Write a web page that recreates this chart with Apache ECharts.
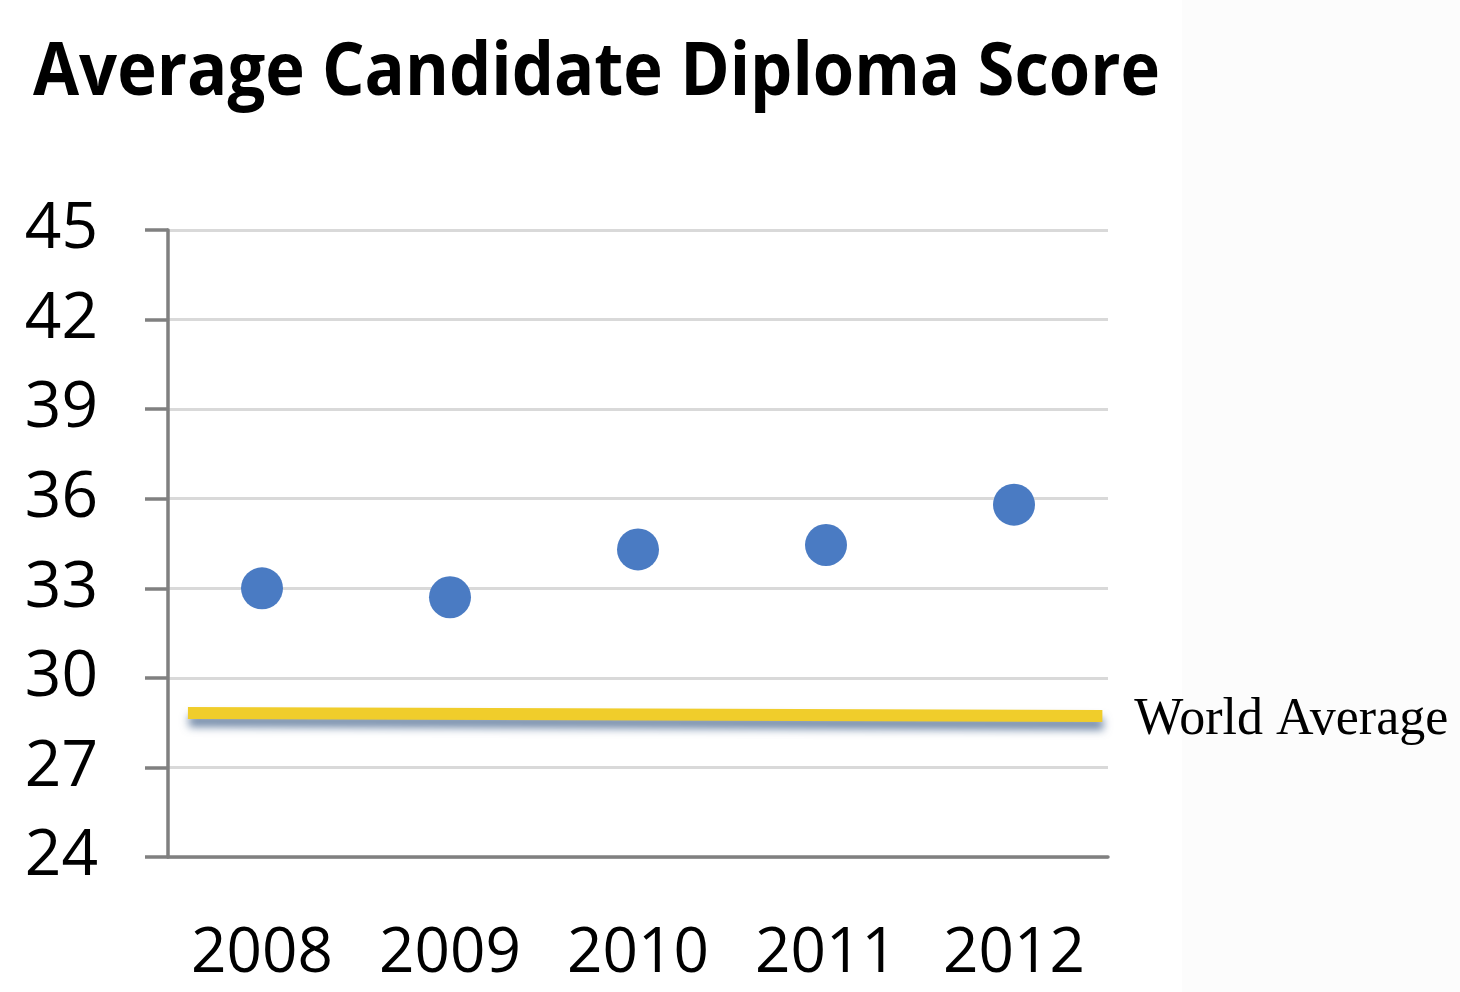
<!DOCTYPE html>
<html>
<head>
<meta charset="utf-8">
<script src="https://cdn.jsdelivr.net/npm/echarts@6/dist/echarts.min.js"></script>
<style>
html,body{margin:0;padding:0;background:#fff;}
#c{width:1460px;height:992px;}
</style>
</head>
<body>
<div id="c"></div>
<script>
const titleText = 'Average Candidate Diploma Score';
const years = ['2008', '2009', '2010', '2011', '2012'];
const scores = [33.0, 32.7, 34.3, 34.45, 35.8];
const worldAverageLabel = 'World Average';
const worldAverage = [28.82, 28.72]; // start / end of the drawn line
const yMin = 24, yMax = 45, yStep = 3;

// condensed look of the title: measure Open Sans Bold and squeeze to target width
const titleFont = 'bold 73px "Open Sans"';
const titleWidth = 1127;
const cv = document.createElement('canvas').getContext('2d');
cv.font = titleFont;
const measured = cv.measureText(titleText).width || titleWidth;
const titleScale = Math.min(1, titleWidth / measured);

const chart = echarts.init(document.getElementById('c'), null, {renderer: 'canvas'});
chart.setOption({
  backgroundColor: '#ffffff',
  animation: false,
  graphic: [{
    type: 'rect', z: -10, silent: true,
    shape: {x: 1182, y: 0, width: 278, height: 992},
    style: {fill: '#fcfcfc'}
  }, {
    type: 'text', left: 33, top: 38, scaleX: titleScale, originX: 0,
    style: {text: titleText, font: titleFont, fill: '#000'}
  }],
  grid: {left: 168, right: 352, top: 230, bottom: 135, containLabel: false},
  xAxis: [{
    type: 'category', data: years, boundaryGap: true,
    axisLine: {show: true, lineStyle: {color: '#808080', width: 3.5}},
    axisTick: {show: false},
    axisLabel: {fontFamily: 'Open Sans', fontSize: 62, color: '#000', margin: 66}
  }, {
    type: 'value', min: 0, max: years.length, show: false
  }],
  yAxis: {
    type: 'value', min: yMin, max: yMax, interval: yStep,
    axisLine: {show: true, lineStyle: {color: '#808080', width: 3.5}},
    axisTick: {show: true, length: 23, lineStyle: {color: '#808080', width: 3.5}},
    splitLine: {show: true, lineStyle: {color: '#d9d9d9', width: 3}},
    axisLabel: {fontFamily: 'Open Sans', fontSize: 64, color: '#000', margin: 70}
  },
  series: [{
    type: 'line', xAxisIndex: 1,
    data: [[0.106, worldAverage[0]], [years.length - 0.03, worldAverage[1]]],
    symbol: 'none',
    lineStyle: {color: '#f0cd2b', width: 12, cap: 'butt',
      shadowColor: 'rgba(70,100,140,0.75)', shadowBlur: 8, shadowOffsetY: 8, shadowOffsetX: 1},
    endLabel: {show: true, formatter: worldAverageLabel, fontFamily: 'Liberation Serif',
      fontSize: 52, color: '#000', distance: 32, offset: [0, 4]},
    z: 2
  }, {
    type: 'scatter', xAxisIndex: 0,
    data: scores,
    symbolSize: 42,
    itemStyle: {color: '#4a7bc3', opacity: 1},
    z: 3
  }]
});
</script>
</body>
</html>
